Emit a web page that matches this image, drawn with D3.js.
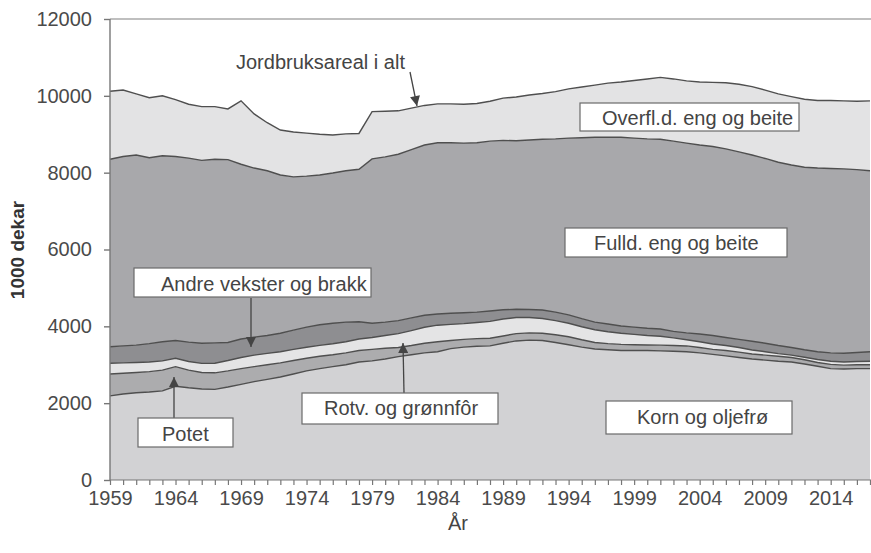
<!DOCTYPE html>
<html>
<head>
<meta charset="utf-8">
<script src="https://cdn.jsdelivr.net/npm/d3@7"></script>
<style>
    body { margin: 0; background: #fff; }
    svg { font-family: "Liberation Sans", Arial, sans-serif; }
    .tick text { fill: #4a4a4a; font-size: 20px; }
    .boxText { fill: #444; font-size: 20px; }
</style>
</head>
<body>
<script>
//years on the x axis (1959-2017)
var years = d3.range(1959, 2018);
var yTicks = [0, 2000, 4000, 6000, 8000, 10000, 12000];
var xLabelYears = [1959, 1964, 1969, 1974, 1979, 1984, 1989, 1994, 1999, 2004, 2009, 2014];

//areas per category, 1000 dekar
var korn = [2190,2240,2270,2290,2320,2440,2400,2370,2360,2420,2490,2560,2620,2680,2760,2840,2900,2950,3000,3070,
    3100,3150,3210,3260,3310,3340,3420,3460,3480,3490,3560,3620,3640,3630,3580,3520,3460,3410,3390,3370,
    3370,3370,3360,3350,3340,3310,3270,3230,3190,3150,3120,3090,3070,3020,2960,2900,2890,2900,2900];
var potet = [570,540,530,530,540,510,460,430,430,420,410,390,380,370,350,330,320,310,310,300,
    300,280,240,240,250,260,210,200,200,200,190,190,190,190,200,210,190,170,160,160,
    150,145,150,150,150,140,130,140,140,130,130,130,120,110,100,110,100,100,100];
var rotv = [280,270,260,250,240,220,225,235,250,270,290,300,295,290,290,285,285,285,290,300,
    310,330,360,390,415,430,420,410,420,440,440,420,400,385,370,350,340,330,310,290,
    270,245,230,200,160,150,140,130,120,105,90,70,60,65,75,80,80,85,90];
var andre = [430,440,450,480,500,460,505,525,530,470,480,470,465,480,500,525,535,535,510,450,
    370,350,340,330,315,290,290,285,270,270,240,215,210,220,220,220,210,200,200,190,
    190,190,190,170,180,200,220,210,210,225,220,210,200,195,205,220,230,235,250];
var fulld = [4880,4930,4950,4840,4840,4790,4790,4760,4780,4760,4550,4400,4290,4120,3990,3930,3900,3910,3940,3970,
    4280,4300,4330,4380,4430,4460,4440,4415,4410,4420,4410,4385,4410,4445,4510,4600,4710,4810,4865,4910,
    4920,4930,4940,4950,4940,4920,4920,4910,4880,4850,4810,4770,4750,4750,4780,4800,4800,4760,4710];
var overfl = [1770,1730,1590,1560,1560,1480,1400,1400,1370,1320,1650,1410,1250,1170,1170,1120,1060,990,960,930,
    1230,1190,1130,1080,1030,1010,1010,1010,1020,1040,1100,1140,1170,1190,1230,1280,1320,1360,1405,1440,
    1500,1560,1610,1620,1620,1640,1670,1720,1760,1780,1780,1780,1780,1770,1760,1770,1770,1780,1820];

var keys = ["korn", "potet", "rotv", "andre", "fulld", "overfl"];
var colors = ["#d2d2d4", "#acacae", "#e4e4e5", "#8e8e91", "#a8a8ab", "#e3e3e4"];

//label boxes (text, box position)
var boxes = [
    {text: "Overfl.d. eng og beite", x: 580, y: 103, w: 219, h: 28, tx: 602, ty: 125},
    {text: "Fulld. eng og beite", x: 565, y: 228, w: 222, h: 29, tx: 594, ty: 250},
    {text: "Andre vekster og brakk", x: 134, y: 268, w: 237, h: 29, tx: 161, ty: 291},
    {text: "Potet", x: 138, y: 418, w: 95, h: 29, tx: 162, ty: 441},
    {text: "Rotv. og grønnfôr", x: 302, y: 393, w: 196, h: 31, tx: 324, ty: 415},
    {text: "Korn og oljefrø", x: 606, y: 401, w: 186, h: 33, tx: 637, ty: 424}
];
var arrows = [
    [410, 72, 417, 106],
    [251, 298, 251, 347],
    [174, 418, 174, 377],
    [404, 393, 403, 343]
];

window.onload = setChart();

function setChart(){
    var width = 871,
        height = 553;

    var svg = d3.select("body")
        .append("svg")
        .attr("width", width)
        .attr("height", height);

    //scales
    var x = d3.scaleLinear()
        .domain([1959, 2017])
        .range([110, 870]);
    var y = d3.scaleLinear()
        .domain([0, 12000])
        .range([480, 19]);

    //build table for the stack
    var table = years.map(function(yr, i){
        return {year: yr, korn: korn[i], potet: potet[i], rotv: rotv[i],
            andre: andre[i], fulld: fulld[i], overfl: overfl[i]};
    });
    var series = d3.stack().keys(keys)(table);

    var area = d3.area()
        .x(function(d){ return x(d.data.year); })
        .y0(function(d){ return y(d[0]); })
        .y1(function(d){ return y(d[1]); });
    var topLine = d3.line()
        .x(function(d){ return x(d.data.year); })
        .y(function(d){ return y(d[1]); });

    svg.selectAll(".layer")
        .data(series)
        .enter()
        .append("path")
        .attr("class", "layer")
        .attr("fill", function(d, i){ return colors[i]; })
        .attr("d", area);

    //dark border on top of every layer
    svg.selectAll(".edge")
        .data(series)
        .enter()
        .append("path")
        .attr("class", "edge")
        .attr("fill", "none")
        .attr("stroke", "#4f4f4f")
        .attr("stroke-width", 1.4)
        .attr("d", topLine);

    //top frame line
    svg.append("line")
        .attr("x1", 110).attr("x2", 871)
        .attr("y1", y(12000)).attr("y2", y(12000))
        .attr("stroke", "#808080")
        .attr("stroke-width", 1.2);

    //y axis
    var yAxis = svg.append("g")
        .attr("transform", "translate(110,0)")
        .call(d3.axisLeft(y).tickValues(yTicks).tickSize(6).tickPadding(12).tickFormat(d3.format("d")));
    yAxis.selectAll("line, path").attr("stroke", "#777").attr("stroke-width", 1.4);
    yAxis.select(".domain").attr("d", "M0," + y(0) + "V" + y(12000));

    //x axis: tick every year, label every 5th
    var xAxis = svg.append("g")
        .attr("transform", "translate(0," + y(0) + ")")
        .call(d3.axisBottom(x).tickValues(years).tickSize(5).tickPadding(6)
            .tickFormat(function(d){ return xLabelYears.indexOf(d) >= 0 ? d : ""; }));
    xAxis.selectAll("line, path").attr("stroke", "#777").attr("stroke-width", 1.2);
    xAxis.select(".domain").attr("d", "M110,0H871");

    //axis titles
    svg.append("text")
        .attr("x", 458).attr("y", 530)
        .attr("text-anchor", "middle")
        .attr("fill", "#444")
        .style("font-size", "20px")
        .text("År");
    svg.append("text")
        .attr("transform", "translate(24,250) rotate(-90)")
        .attr("text-anchor", "middle")
        .attr("fill", "#333")
        .style("font-size", "19px")
        .style("font-weight", "bold")
        .text("1000 dekar");

    //arrowhead marker
    svg.append("defs").append("marker")
        .attr("id", "head")
        .attr("viewBox", "0 0 10 10")
        .attr("refX", 10).attr("refY", 5)
        .attr("markerWidth", 12).attr("markerHeight", 10)
        .attr("markerUnits", "userSpaceOnUse")
        .attr("orient", "auto")
        .append("path")
        .attr("d", "M0,0L10,5L0,10Z")
        .attr("fill", "#444");

    svg.selectAll(".arrow")
        .data(arrows)
        .enter()
        .append("line")
        .attr("class", "arrow")
        .attr("x1", function(d){ return d[0]; })
        .attr("y1", function(d){ return d[1]; })
        .attr("x2", function(d){ return d[2]; })
        .attr("y2", function(d){ return d[3]; })
        .attr("stroke", "#444")
        .attr("stroke-width", 1.3)
        .attr("marker-end", "url(#head)");

    //label boxes
    var g = svg.selectAll(".box")
        .data(boxes)
        .enter()
        .append("g")
        .attr("class", "box");
    g.append("rect")
        .attr("x", function(d){ return d.x; })
        .attr("y", function(d){ return d.y; })
        .attr("width", function(d){ return d.w; })
        .attr("height", function(d){ return d.h; })
        .attr("fill", "#fff")
        .attr("stroke", "#6a6a6a")
        .attr("stroke-width", 1.2);
    g.append("text")
        .attr("class", "boxText")
        .attr("x", function(d){ return d.tx; })
        .attr("y", function(d){ return d.ty; })
        .text(function(d){ return d.text; });

    //total label, no box
    svg.append("text")
        .attr("class", "boxText")
        .attr("x", 236).attr("y", 69)
        .text("Jordbruksareal i alt");
};
</script>
</body>
</html>
